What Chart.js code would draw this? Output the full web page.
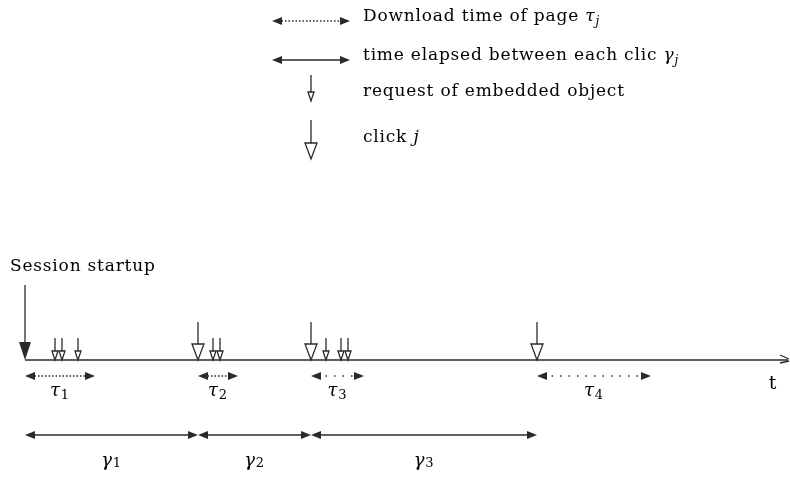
<!DOCTYPE html>
<html>
<head>
<meta charset="utf-8">
<script src="https://cdn.jsdelivr.net/npm/chart.js@4/dist/chart.umd.min.js"></script>
<style>
  html, body { margin: 0; padding: 0; background: #fff; }
  #wrap { width: 790px; height: 477px; }
</style>
</head>
<body>
<div id="wrap"><canvas id="diagram" width="790" height="477"></canvas></div>
<script>
// events on the time axis
var startupTime = 25;
var clickTimes = [198, 311, 537];
var requestTimes = [55, 62, 78, 213, 220, 326, 341, 348];

// download time of each page (tau) and time between clicks (gamma)
var tauStart = [25, 198, 311, 537];
var tauEnd = [95, 238, 364, 651];
var tauLabels = ['1', '2', '3', '4'];
var gammaStart = [25, 198, 311];
var gammaEnd = [198, 311, 537];
var gammaLabels = ['1', '2', '3'];

var axisEnd = 790;

var serif = '"DejaVu Serif", "Liberation Serif", serif';
var ink = '#2a2a2a';

function arrowHead(ctx, x, y, dir, len, half, filled) {
  // dir: 'l','r','d'
  ctx.beginPath();
  if (dir === 'r') { ctx.moveTo(x, y); ctx.lineTo(x - len, y - half); ctx.lineTo(x - len, y + half); }
  if (dir === 'l') { ctx.moveTo(x, y); ctx.lineTo(x + len, y - half); ctx.lineTo(x + len, y + half); }
  if (dir === 'd') { ctx.moveTo(x, y); ctx.lineTo(x - half, y - len); ctx.lineTo(x + half, y - len); }
  ctx.closePath();
  if (filled) { ctx.fill(); } else { ctx.fillStyle = '#fff'; ctx.fill(); ctx.fillStyle = ink; ctx.stroke(); }
}

function hArrow(ctx, x1, x2, y, dash) {
  ctx.save();
  ctx.setLineDash(dash || []);
  ctx.beginPath();
  ctx.moveTo(x1 + 6, y);
  ctx.lineTo(x2 - 6, y);
  ctx.stroke();
  ctx.restore();
  arrowHead(ctx, x1, y, 'l', 10, 4, true);
  arrowHead(ctx, x2, y, 'r', 10, 4, true);
}

function vArrow(ctx, x, yTop, yBot, len, half, filled) {
  ctx.beginPath();
  ctx.moveTo(x, yTop);
  ctx.lineTo(x, yBot - len);
  ctx.stroke();
  arrowHead(ctx, x, yBot, 'd', len, half, filled);
}

// write pieces one after another: [text, style, size, dy]
function runs(ctx, parts, x, y, centered) {
  var total = 0;
  parts.forEach(function (p) { ctx.font = p[1] + p[2] + 'px ' + serif; total += ctx.measureText(p[0]).width; });
  var cx = centered ? x - total / 2 : x;
  ctx.textAlign = 'left';
  parts.forEach(function (p) {
    ctx.font = p[1] + p[2] + 'px ' + serif;
    ctx.fillText(p[0], cx, y + (p[3] || 0));
    cx += ctx.measureText(p[0]).width;
  });
}

var diagramPlugin = {
  id: 'diagram',
  afterDraw: function (chart) {
    var ctx = chart.ctx;
    var xs = chart.scales.x, ys = chart.scales.y;
    var X = function (v) { return xs.getPixelForValue(v); };
    var Y = function (v) { return ys.getPixelForValue(v); };
    ctx.save();
    ctx.strokeStyle = ink;
    ctx.fillStyle = ink;
    ctx.lineWidth = 1.3;
    ctx.textBaseline = 'middle';
    ctx.letterSpacing = '0.8px';

    // legend
    hArrow(ctx, 272, 350, 21, [1.5, 2]);
    hArrow(ctx, 272, 350, 60, []);
    vArrow(ctx, 311, 75, 101, 9, 3, false);
    vArrow(ctx, 311, 120, 159, 16, 6, false);
    ctx.fillStyle = '#000';
    runs(ctx, [['Download time of page ', '', 17], ['\u03c4', 'italic ', 17], ['j', 'italic ', 12, 5]], 363, 17);
    runs(ctx, [['time elapsed between each clic ', '', 17], ['\u03b3', 'italic ', 17], ['j', 'italic ', 12, 5]], 363, 56);
    runs(ctx, [['request of embedded object', '', 17]], 363, 92);
    runs(ctx, [['click ', '', 17], ['j', 'italic ', 17]], 363, 138);
    ctx.fillStyle = ink;

    // time axis
    var y0 = Y(360);
    ctx.beginPath();
    ctx.moveTo(X(startupTime), y0);
    ctx.lineTo(X(axisEnd) - 2, y0);
    ctx.stroke();
    ctx.beginPath();
    ctx.moveTo(X(axisEnd) - 10, y0 - 5);
    ctx.lineTo(X(axisEnd) - 1, y0 - 1);
    ctx.moveTo(X(axisEnd) - 10, y0 + 3);
    ctx.lineTo(X(axisEnd) - 1, y0 + 1);
    ctx.stroke();
    ctx.fillStyle = '#000';
    ctx.font = '19px ' + serif;
    ctx.textAlign = 'center';
    ctx.fillText('t', 773, 384);

    // session startup
    runs(ctx, [['Session startup', '', 17]], 10, 267);
    ctx.fillStyle = ink;
    vArrow(ctx, X(startupTime), 285, y0, 18, 6, true);

    // clicks and requests
    clickTimes.forEach(function (t) { vArrow(ctx, X(t), 322, y0, 16, 6, false); });
    requestTimes.forEach(function (t) { vArrow(ctx, X(t), 338, y0, 9, 3, false); });

    // tau intervals
    ctx.fillStyle = ink;
    tauStart.forEach(function (s, i) {
      var dash = i < 2 ? [1.5, 2] : [1.5, 7];
      ctx.fillStyle = ink;
      hArrow(ctx, X(s), X(tauEnd[i]), Y(376), dash);
      ctx.fillStyle = '#000';
      runs(ctx, [['\u03c4', 'italic ', 18], [tauLabels[i], '', 13, 5]], (X(s) + X(tauEnd[i])) / 2, Y(391), true);
    });

    // gamma intervals
    gammaStart.forEach(function (s, i) {
      ctx.fillStyle = ink;
      hArrow(ctx, X(s), X(gammaEnd[i]), Y(435), []);
      ctx.fillStyle = '#000';
      runs(ctx, [['\u03b3', 'italic ', 18], [gammaLabels[i], '', 13, 3]], (X(s) + X(gammaEnd[i])) / 2, Y(461), true);
    });
    ctx.restore();
  }
};

new Chart(document.getElementById('diagram'), {
  type: 'scatter',
  data: { datasets: [{ data: [] }] },
  options: {
    responsive: false,
    animation: false,
    layout: { padding: 0 },
    plugins: { legend: { display: false }, tooltip: { enabled: false } },
    scales: {
      x: { type: 'linear', min: 0, max: 790, display: false },
      y: { type: 'linear', min: 0, max: 477, reverse: true, display: false }
    }
  },
  plugins: [diagramPlugin]
});
</script>
</body>
</html>
